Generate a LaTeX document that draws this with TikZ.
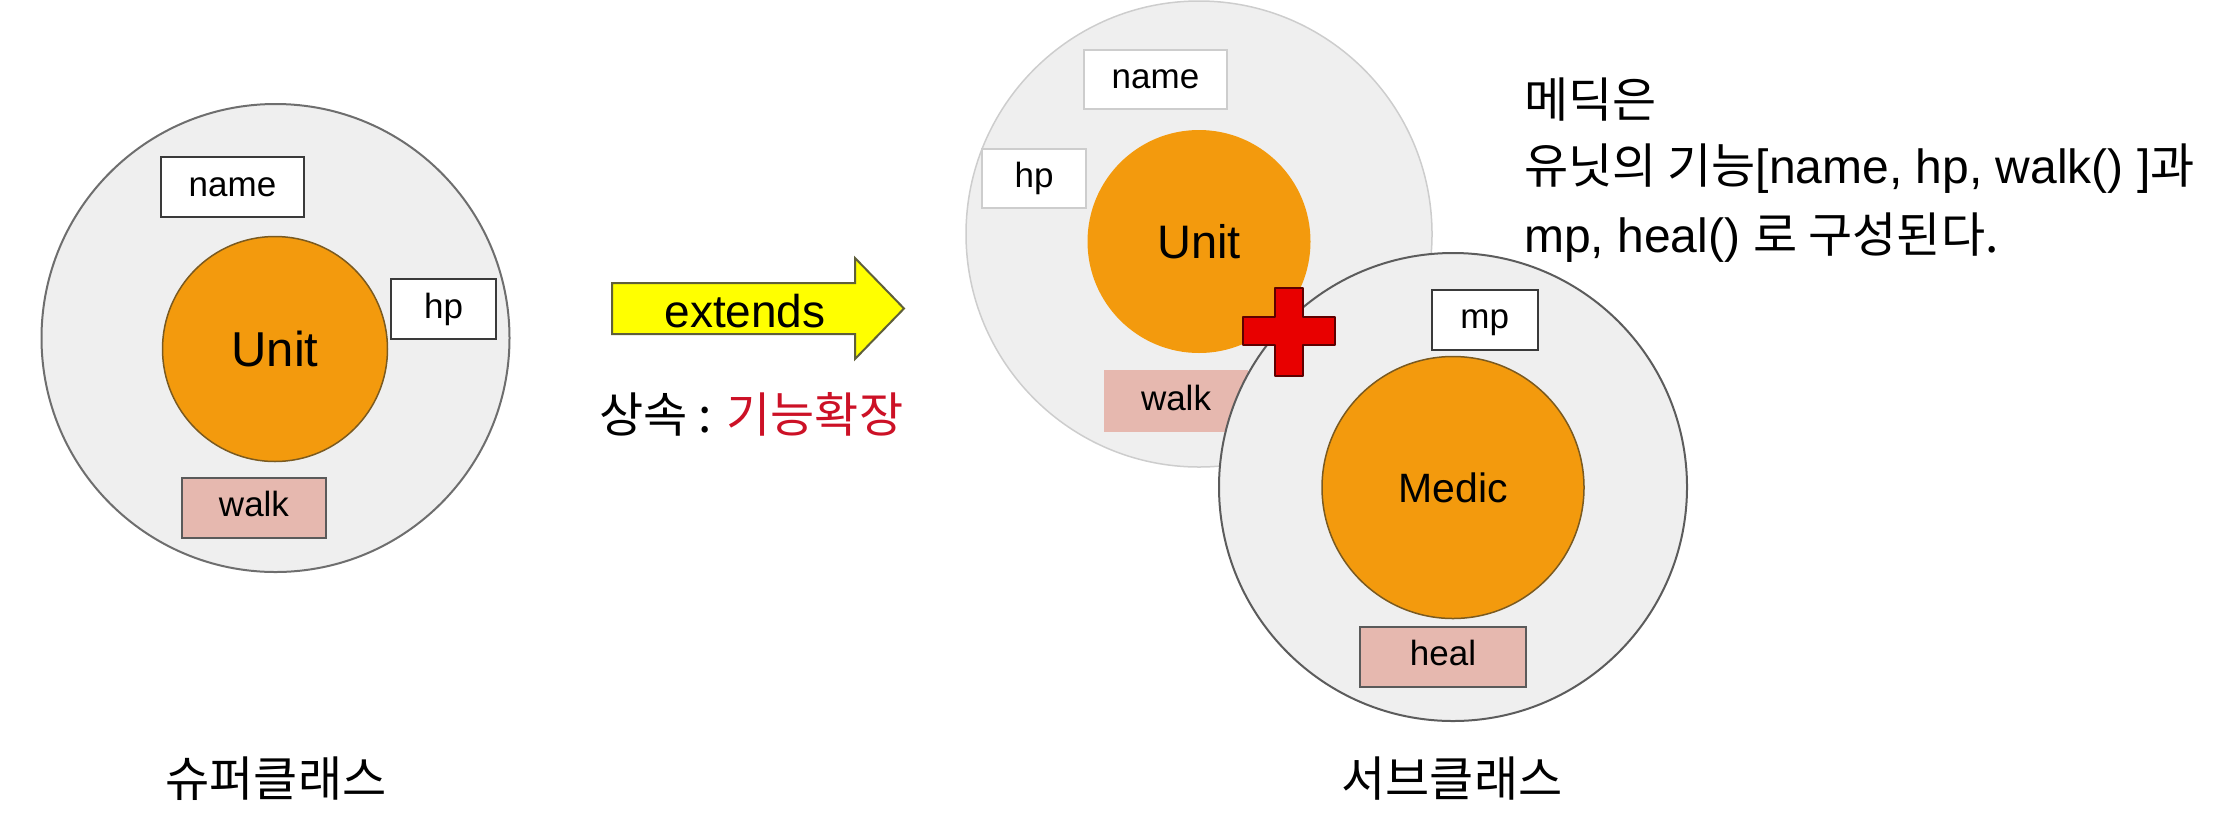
\documentclass[tikz,border=0pt]{standalone}
\usepackage{fontspec}
\setmainfont{Liberation Sans}
\newfontfamily\kr{Noto Sans CJK KR}
\usetikzlibrary{positioning}
\definecolor{ringfill}{HTML}{EFEFEF}
\definecolor{ringline}{HTML}{6E6E6E}
\definecolor{ringdark}{HTML}{5C5C5C}
\definecolor{ringfaint}{HTML}{CDCDCD}
\definecolor{corefill}{HTML}{F39A0D}
\definecolor{coreline}{HTML}{7A5A20}
\definecolor{fieldline}{HTML}{3A3A3A}
\definecolor{funcfill}{HTML}{E6B8AF}
\definecolor{funcline}{HTML}{5A5A5A}
\definecolor{crossfill}{HTML}{E80000}
\definecolor{crossline}{HTML}{5E0000}
\definecolor{arrowfill}{HTML}{FFFF00}
\definecolor{arrowline}{HTML}{5F5F3A}
\definecolor{krred}{HTML}{CC1126}
\newcommand\px[1]{\fontsize{#1}{#1}\selectfont}

\begin{document}
\begin{tikzpicture}[x=1pt,y=-1pt,
 ring/.style={circle,draw=ringline,line width=2pt,fill=ringfill,
 inner sep=0pt,minimum size=468pt},
 core/.style={circle,draw=coreline,line width=1.5pt,fill=corefill,
 inner sep=0pt,font=\px{49}},
 field/.style={draw=fieldline,line width=2pt,fill=white,inner sep=0pt,
 minimum height=60pt,font=\px{35},text height=25pt,text depth=7pt},
 func/.style={field,draw=funcline,fill=funcfill},
 crossmark/.style={draw=crossline,line width=2pt,fill=crossfill,line join=round},
 bigarrow/.style={draw=arrowline,line width=2pt,fill=arrowfill,line join=miter},
 label/.style={font=\px{48}\kr},
 note/.style={font=\px{48},anchor=base west,inner sep=0pt}]
\useasboundingbox (0,0) rectangle (2234,820);

% superclass
\node[ring] (superring) at (275.5,338) {};
\node[core,minimum size=225pt] (supercore) at (275,349) {Unit};
\node[field,minimum width=143pt] (supername) at (232.5,187) {name};
\node[field,minimum width=105pt] (superhp) at (443.5,309) {hp};
\node[func,minimum width=144pt] (superwalk) at (254,507.5) {walk};

% inherited part of the subclass
\node[ring,draw=ringfaint,line width=1.5pt,minimum size=466pt] (basering) at (1199,234) {};
\node[core,draw=none,minimum size=223pt,font=\px{47}] (basecore) at (1199,241.5) {Unit};
\node[field,draw=ringfaint,minimum width=143pt,minimum height=59pt] (basename) at (1155.5,79.5) {name};
\node[field,draw=ringfaint,minimum width=104pt,minimum height=59pt] (basehp) at (1034,178.5) {hp};
\node[func,draw=none,minimum width=144pt,minimum height=62pt] (basewalk) at (1176,401) {walk};

% subclass
\node[ring,draw=ringdark] (subring) at (1453,487) {};
\node[core,minimum size=262pt,font=\px{41}] (subcore) at (1453,487.5) {Medic};
\node[field,minimum width=106pt] (submp) at (1484.7,319.5) {mp};
\node[func,minimum width=166pt] (subheal) at (1443,656.7) {heal};

\draw[crossmark] (1275,288) -- (1303,288) -- (1303,317) -- (1335,317)
 -- (1335,345) -- (1303,345) -- (1303,376) -- (1275,376) -- (1275,345)
 -- (1243,345) -- (1243,317) -- (1275,317) -- cycle;

% extends arrow
\draw[bigarrow] (612,283) -- (855,283) -- (855,258) -- (904,308.5)
 -- (855,359) -- (855,334) -- (612,334) -- cycle;
\node[font=\px{46}] (extends) at (745,311) {extends};
\node[label] (inherit) at (751.5,414) {상속 : {\color{krred}기능확장}};

\node[label] (superlabel) at (276,779) {슈퍼클래스};
\node[label] (sublabel) at (1452,779) {서브클래스};

\node[note] (note1) at (1524,117) {\kr 메딕은};
\node[note] (note2) at (1524,183) {{\kr 유닛의 기능}[name, hp, walk() ]{\kr 과}};
\node[note] (note3) at (1524,252) {mp, heal() {\kr 로 구성된다.}};
\end{tikzpicture}
\end{document}
